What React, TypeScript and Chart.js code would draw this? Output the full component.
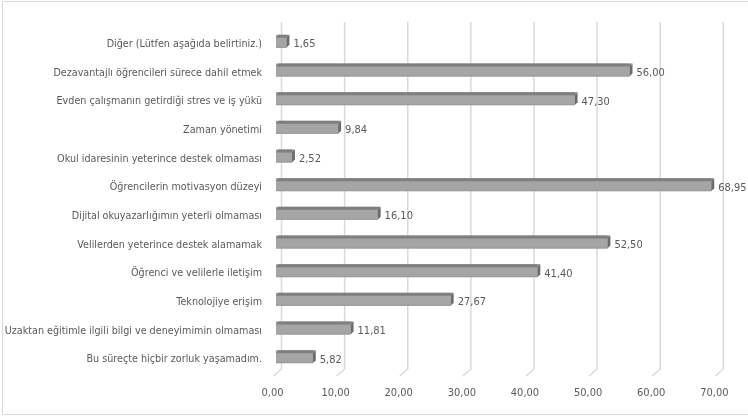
import React, { useEffect, useRef } from "react";
import { Chart, registerables } from "chart.js";

Chart.register(...registerables);

const categories: string[] = [
  "Diğer (Lütfen aşağıda belirtiniz.)",
  "Dezavantajlı öğrencileri sürece dahil etmek",
  "Evden çalışmanın getirdiği stres ve iş yükü",
  "Zaman yönetimi",
  "Okul idaresinin yeterince destek olmaması",
  "Öğrencilerin motivasyon düzeyi",
  "Dijital okuyazarlığımın yeterli olmaması",
  "Velilerden yeterince destek alamamak",
  "Öğrenci ve velilerle iletişim",
  "Teknolojiye erişim",
  "Uzaktan eğitimle ilgili bilgi ve deneyimimin olmaması",
  "Bu süreçte hiçbir zorluk yaşamadım.",
];

const values: number[] = [1.65, 56.0, 47.3, 9.84, 2.52, 68.95, 16.1, 52.5, 41.4, 27.67, 11.81, 5.82];

const xMin = 0;
const xMax = 70;
const xStep = 10;

const FONT = "'Liberation Sans Narrow', 'DejaVu Sans Condensed', sans-serif";
const fmt = (v: number) => v.toFixed(2).replace(".", ",");

const gridPlugin = {
  id: "grid3d",
  beforeDatasetsDraw(chart: any) {
    const { ctx, chartArea, scales } = chart;
    const sx = scales.x;
    ctx.save();
    ctx.strokeStyle = "#d9d9d9";
    ctx.lineWidth = 1.5;
    sx.ticks.forEach((t: any) => {
      const px = sx.getPixelForValue(t.value) + 5.5;
      ctx.beginPath();
      ctx.moveTo(px, chartArea.top - 5);
      ctx.lineTo(px, chartArea.bottom - 2);
      ctx.lineTo(px - 8, chartArea.bottom + 5);
      ctx.stroke();
    });
    ctx.restore();
  },
};

const bar3dPlugin = {
  id: "bar3d",
  afterDatasetsDraw(chart: any) {
    const { ctx } = chart;
    const meta = chart.getDatasetMeta(0);
    ctx.save();
    meta.data.forEach((el: any, i: number) => {
      const { x, y, base, height } = el.getProps(["x", "y", "base", "height"], true);
      const top = y - height / 2;
      const bottom = y + height / 2;
      ctx.fillStyle = "#a5a5a5";
      ctx.fillRect(base, top, x - base, height);
      ctx.fillStyle = "#9a9a9a";
      ctx.fillRect(base, bottom - 1, x - base, 1);
      ctx.fillStyle = "#7f7f7f";
      ctx.beginPath();
      ctx.moveTo(base, top + 3);
      ctx.lineTo(base + 2, top);
      ctx.lineTo(x + 3, top);
      ctx.lineTo(x, top + 3);
      ctx.closePath();
      ctx.fill();
      ctx.fillStyle = "#6b6b6b";
      ctx.beginPath();
      ctx.moveTo(x, top + 3);
      ctx.lineTo(x + 3, top);
      ctx.lineTo(x + 3, bottom - 3);
      ctx.lineTo(x, bottom);
      ctx.closePath();
      ctx.fill();
      ctx.fillStyle = "#595959";
      ctx.font = `11px ${FONT}`;
      ctx.textAlign = "left";
      ctx.textBaseline = "middle";
      ctx.fillText(fmt(values[i]), x + 7, y + 3);
    });
    ctx.restore();
  },
};

export default function App() {
  const ref = useRef<HTMLCanvasElement | null>(null);

  useEffect(() => {
    if (!ref.current) return;
    const chart = new Chart(ref.current, {
      type: "bar",
      data: {
        labels: categories,
        datasets: [
          {
            data: values,
            backgroundColor: "rgba(0,0,0,0)",
            borderWidth: 0,
            barThickness: 13,
          },
        ],
      },
      options: {
        indexAxis: "y",
        responsive: false,
        animation: false,
        layout: { padding: { top: 27, right: 29, left: 0, bottom: 0 } },
        plugins: { legend: { display: false }, tooltip: { enabled: false } },
        scales: {
          x: {
            min: xMin,
            max: xMax,
            grid: { display: false, drawTicks: false },
            border: { display: false },
            ticks: {
              stepSize: xStep,
              padding: 16,
              labelOffset: -3.5,
              color: "#595959",
              font: { family: FONT, size: 11 },
              callback: (v: any) => fmt(Number(v)),
            },
            afterFit: (s: any) => {
              s.height = 46;
            },
          },
          y: {
            grid: { display: false, drawTicks: false },
            border: { display: false },
            ticks: {
              padding: 14,
              labelOffset: 3,
              color: "#595959",
              font: { family: FONT, size: 10.7 },
              autoSkip: false,
            },
            afterFit: (s: any) => {
              s.width = 276;
            },
          },
        },
      },
      plugins: [gridPlugin, bar3dPlugin],
    });
    return () => chart.destroy();
  }, []);

  return (
    <div style={{ position: "fixed", left: 0, top: 0, width: 748, height: 417, background: "#fff" }}>
      <div
        style={{
          position: "absolute",
          left: 2,
          top: 1,
          width: 760,
          height: 414,
          border: "1px solid #d9d9d9",
          boxSizing: "border-box",
        }}
      />
      <canvas ref={ref} width={748} height={417} style={{ position: "absolute", left: 0, top: 0 }} />
    </div>
  );
}
